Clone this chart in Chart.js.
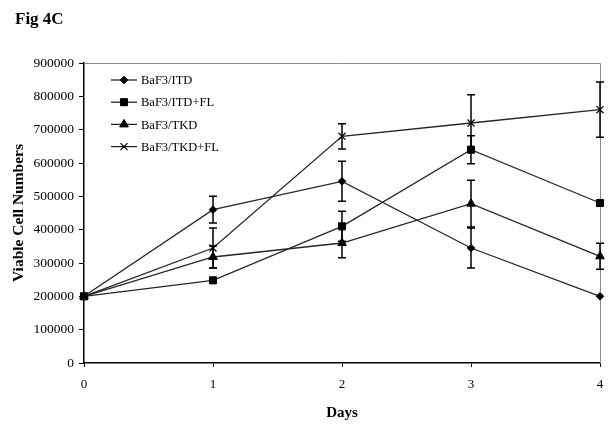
<!DOCTYPE html>
<html>
<head>
<meta charset="utf-8">
<script src="https://cdn.jsdelivr.net/npm/chart.js@4/dist/chart.umd.min.js"></script>
<style>
    html, body { margin: 0; padding: 0; background: #fff; }
    #wrap { position: relative; width: 614px; height: 426px; }
    #figLabel {
        position: absolute; left: 15px; top: 9px;
        font: bold 17px "Liberation Serif", "DejaVu Serif", serif;
        color: #000;
    }
    canvas { position: absolute; left: 0; top: 0; }
</style>
</head>
<body>
<div id="wrap">
    <canvas id="chart" width="614" height="426"></canvas>
    <div id="figLabel">Fig 4C</div>
</div>
<script>
// Chart data
const days = [0, 1, 2, 3, 4];
const seriesNames = ['BaF3/ITD', 'BaF3/ITD+FL', 'BaF3/TKD', 'BaF3/TKD+FL'];

const itdCells = [200000, 460000, 545000, 345000, 200000];
const itdErrors = [0, 40000, 60000, 60000, 0];

const itdFlCells = [200000, 248000, 410000, 640000, 480000];
const itdFlErrors = [0, 0, 45000, 42000, 0];

const tkdCells = [200000, 318000, 360000, 478000, 320000];
const tkdErrors = [0, 33000, 44000, 70000, 39000];

const tkdFlCells = [200000, 345000, 680000, 720000, 760000];
const tkdFlErrors = [0, 60000, 38000, 85000, 83000];

const yTicks = [0, 100000, 200000, 300000, 400000, 500000, 600000, 700000, 800000, 900000];

const serif = '"Liberation Serif", "DejaVu Serif", serif';

function makeSeries(label, values, errors, style, radius) {
    return {
        label: label,
        data: days.map((d, i) => ({ x: d, y: values[i] })),
        errors: errors,
        borderColor: '#262626',
        borderWidth: 1.3,
        pointStyle: style,
        pointRadius: radius,
        pointBackgroundColor: '#000',
        pointBorderColor: '#000',
        pointBorderWidth: style === 'crossRot' ? 1.2 : 1,
        tension: 0,
        clip: false
    };
}

// Error bars and frame
const errorBars = {
    id: 'errorBars',
    beforeDatasetsDraw(chart) {
        const { ctx, chartArea: a } = chart;
        ctx.save();
        ctx.strokeStyle = '#8c8c8c';
        ctx.lineWidth = 1;
        ctx.beginPath();
        ctx.moveTo(a.left, a.top + 0.5);
        ctx.lineTo(a.right + 0.5, a.top + 0.5);
        ctx.lineTo(a.right + 0.5, a.bottom);
        ctx.stroke();
        ctx.restore();
    },
    afterDatasetsDraw(chart) {
        const { ctx } = chart;
        const yScale = chart.scales.y;
        ctx.save();
        ctx.strokeStyle = '#000';
        ctx.lineWidth = 1.5;
        chart.data.datasets.forEach((ds, i) => {
            const meta = chart.getDatasetMeta(i);
            meta.data.forEach((pt, j) => {
                const err = ds.errors[j];
                if (!err) return;
                const v = ds.data[j].y;
                const top = yScale.getPixelForValue(v + err);
                const bot = yScale.getPixelForValue(v - err);
                ctx.beginPath();
                ctx.moveTo(pt.x, top);
                ctx.lineTo(pt.x, bot);
                ctx.moveTo(pt.x - 4, top);
                ctx.lineTo(pt.x + 4, top);
                ctx.moveTo(pt.x - 4, bot);
                ctx.lineTo(pt.x + 4, bot);
                ctx.stroke();
            });
        });
        ctx.restore();
    }
};

// Legend inside the plot area, line + marker like the original
const insideLegend = {
    id: 'insideLegend',
    afterDraw(chart) {
        const { ctx, chartArea: a } = chart;
        ctx.save();
        ctx.font = '12.5px ' + serif;
        ctx.textBaseline = 'middle';
        ctx.fillStyle = '#000';
        chart.data.datasets.forEach((ds, i) => {
            const y = a.top + 17 + i * 22.2;
            const x0 = a.left + 27;
            ctx.strokeStyle = '#262626';
            ctx.lineWidth = 1.3;
            ctx.beginPath();
            ctx.moveTo(x0, y);
            ctx.lineTo(x0 + 26, y);
            ctx.stroke();
            ctx.fillStyle = '#000';
            ctx.strokeStyle = '#000';
            ctx.lineWidth = ds.pointBorderWidth;
            Chart.helpers.drawPoint(ctx, {
                pointStyle: ds.pointStyle,
                radius: ds.pointRadius,
                rotation: 0,
                borderWidth: ds.pointBorderWidth
            }, x0 + 13, y);
            ctx.fillText(ds.label, x0 + 30, y + 1);
        });
        ctx.restore();
    }
};

new Chart(document.getElementById('chart').getContext('2d'), {
    type: 'line',
    data: {
        datasets: [
            makeSeries(seriesNames[0], itdCells, itdErrors, 'rectRot', 3.8),
            makeSeries(seriesNames[1], itdFlCells, itdFlErrors, 'rect', 5),
            makeSeries(seriesNames[2], tkdCells, tkdErrors, 'triangle', 5),
            makeSeries(seriesNames[3], tkdFlCells, tkdFlErrors, 'crossRot', 5)
        ]
    },
    options: {
        responsive: false,
        animation: false,
        events: [],
        layout: { padding: { top: 63, right: 14, left: 0, bottom: 0 } },
        plugins: {
            legend: { display: false },
            tooltip: { enabled: false }
        },
        scales: {
            x: {
                type: 'linear',
                min: 0,
                max: 4,
                afterFit(scale) { scale.height = 63; },
                ticks: {
                    stepSize: 1,
                    color: '#000',
                    padding: 10,
                    font: { family: serif, size: 13 },
                    callback: v => String(v)
                },
                grid: { drawOnChartArea: false, drawTicks: true, tickLength: 4, color: '#000' },
                border: { color: '#000', width: 1.5 },
                title: {
                    display: true,
                    text: 'Days',
                    color: '#000',
                    padding: { top: 0 },
                    font: { family: serif, size: 15, weight: 'bold' }
                }
            },
            y: {
                min: 0,
                max: 900000,
                afterFit(scale) { scale.width = 84; },
                afterBuildTicks(scale) { scale.ticks = yTicks.map(v => ({ value: v })); },
                ticks: {
                    color: '#000',
                    padding: 5,
                    font: { family: serif, size: 13.5 },
                    callback: v => String(v)
                },
                grid: { drawOnChartArea: false, drawTicks: true, tickLength: 5, color: '#000' },
                border: { color: '#000', width: 1.5 },
                title: {
                    display: true,
                    text: 'Viable Cell Numbers',
                    color: '#000',
                    padding: { top: 10, bottom: 0 },
                    font: { family: serif, size: 15.5, weight: 'bold' }
                }
            }
        }
    },
    plugins: [errorBars, insideLegend]
});
</script>
</body>
</html>
